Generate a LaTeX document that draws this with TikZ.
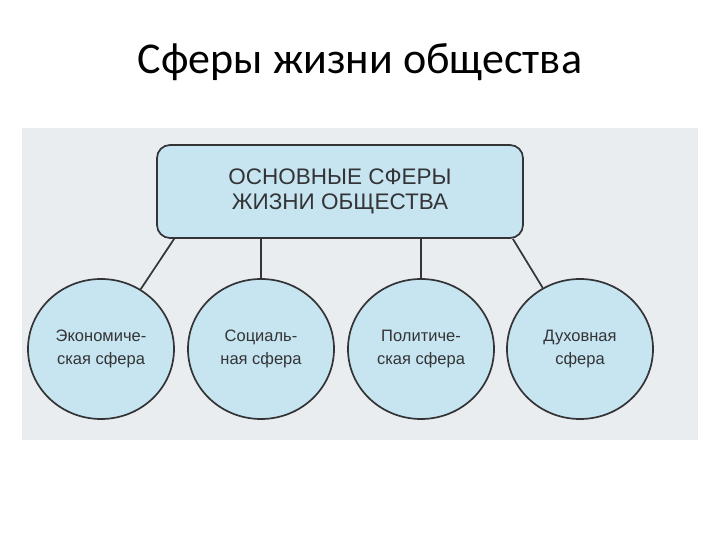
\documentclass[tikz,border=0pt]{standalone}
\usepackage{fontspec}
\setmainfont{Carlito}
\newfontfamily\schemefont{Liberation Sans}
\usepackage{tikz}
\usetikzlibrary{arrows.meta,positioning,shapes.geometric}
\usepackage{xcolor}
\definecolor{scanbg}{RGB}{233,237,240}
\definecolor{sferablue}{RGB}{198,229,241}
\definecolor{sferaink}{RGB}{52,52,54}

\begin{document}
\begin{tikzpicture}[
      x=1pt,y=-1pt,
      root/.style={draw=sferaink,line width=1.7pt,rounded corners=13pt,fill=sferablue,minimum width=366pt,minimum height=93pt,align=center,text=sferaink,font=\schemefont\fontsize{22.5}{25}\selectfont,inner sep=0pt},
      sfera/.style={ellipse,draw=sferaink,line width=1.7pt,fill=sferablue,minimum width=146pt,minimum height=140pt,align=center,text=sferaink,font=\schemefont\fontsize{16.5}{23}\selectfont,inner sep=0pt,execute at begin node={\rule{0pt}{24pt}}},
      link/.style={line width=1.7pt,sferaink}
    ]
    \useasboundingbox (0,0) rectangle (720,540);
    \fill[white] (0,0) rectangle (720,540);
    \node[anchor=base,font=\fontsize{44}{50}\selectfont] (title) at (360,74) {Сферы жизни общества};

    % scan area
    \fill[scanbg] (22,128) rectangle (698,440);

    \node[root] (osn) at (340,191.5) {ОСНОВНЫЕ СФЕРЫ\\ЖИЗНИ ОБЩЕСТВА};
    \node[sfera] (eco) at (101,349) {Экономиче-\\ская сфера};
    \node[sfera] (soc) at (261,349) {Социаль-\\ная сфера};
    \node[sfera] (pol) at (421,349) {Политиче-\\ская сфера};
    \node[sfera] (dux) at (580,349) {Духовная\\сфера};

    \draw[link] ([xshift=18pt]osn.south west) -- (eco);
    \draw[link] (osn.south -| soc) -- (soc);
    \draw[link] (osn.south -| pol) -- (pol);
    \draw[link] ([xshift=-11pt]osn.south east) -- (dux);
  \end{tikzpicture}
\end{document}
